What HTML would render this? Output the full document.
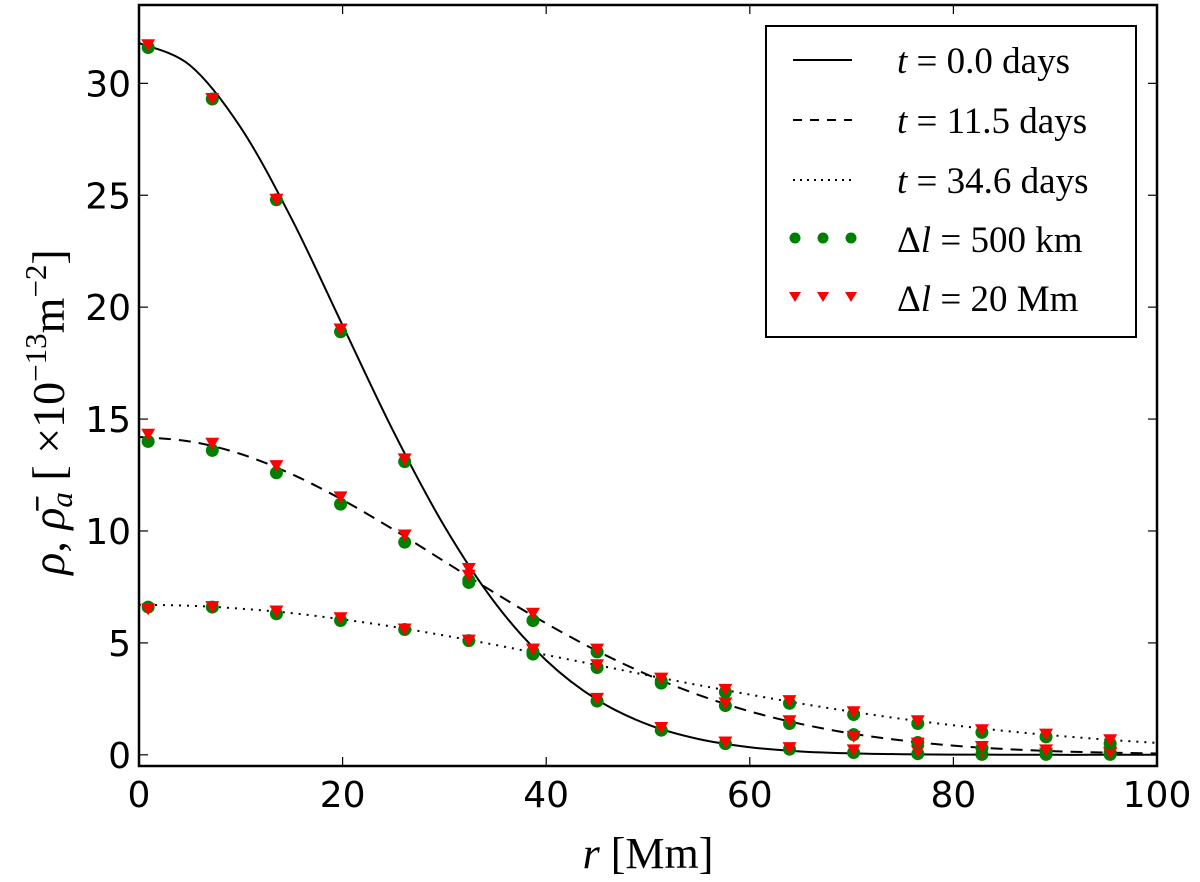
<!DOCTYPE html>
<html><head><meta charset="utf-8"><style>
html,body{margin:0;padding:0;background:#fff;width:1200px;height:882px;overflow:hidden}
svg{display:block}
.tk{font-family:"DejaVu Sans","Liberation Sans",sans-serif;font-size:36px;fill:#000}
.sf{font-family:"Liberation Serif","DejaVu Serif",serif;fill:#000}
</style></head><body>
<svg id="chart" width="1200" height="882" xmlns="http://www.w3.org/2000/svg"></svg>
<script>
const curveR = [0,5,10,15,20,25,30,35,40,45,50,55,60,65,70,75,80,85,90,95,100];
const curveT0 = [31.8,30.81,28.02,23.94,19.19,14.44,10.21,6.77,4.22,2.46,1.35,0.70,0.34,0.15,0.065,0.026,0.01,0.004,0,0,0];
const curveT11 = [14.2,14.0,13.44,12.54,11.39,10.06,8.64,7.22,5.87,4.64,3.57,2.67,1.94,1.38,0.95,0.64,0.41,0.26,0.16,0.10,0.057];
const curveT34 = [6.7,6.66,6.53,6.33,6.05,5.72,5.33,4.91,4.46,4.01,3.55,3.11,2.69,2.29,1.93,1.60,1.32,1.07,0.86,0.68,0.53];
const markerR = [0.9,7.2,13.5,19.8,26.1,32.4,38.7,45.0,51.3,57.6,63.9,70.2,76.5,82.8,89.1,95.4];
const greenT0 = [31.6,29.3,24.8,18.9,13.1,7.8,4.5,2.4,1.1,0.5,0.25,0.1,0.05,0.02,0.02,0.02];
const redT0 = [31.7,29.3,24.8,19.0,13.2,8.3,4.7,2.5,1.2,0.55,0.3,0.2,0.15,0.1,0.05,0.05];
const greenT11 = [14.0,13.6,12.6,11.2,9.5,7.7,6.0,4.6,3.3,2.2,1.4,0.9,0.55,0.3,0.15,0.1];
const redT11 = [14.3,13.9,12.9,11.5,9.8,8.0,6.3,4.7,3.4,2.3,1.5,0.8,0.5,0.35,0.2,0.1];
const greenT34 = [6.6,6.6,6.3,6.0,5.6,5.1,4.6,3.9,3.2,2.8,2.3,1.8,1.4,1.0,0.8,0.5];
const redT34 = [6.5,6.6,6.4,6.1,5.6,5.1,4.7,4.0,3.4,2.9,2.4,1.9,1.5,1.1,0.9,0.65];
const xTicks = [0,20,40,60,80,100];
const yTicks = [0,5,10,15,20,25,30];

const L=139,R=1157,T=5,B=766,XMIN=0,XMAX=100,YMIN=-0.5,YMAX=33.5;
const sx=v=>L+(v-XMIN)/(XMAX-XMIN)*(R-L);
const sy=v=>B-(v-YMIN)/(YMAX-YMIN)*(B-T);
const svg=document.getElementById('chart');
const NS='http://www.w3.org/2000/svg';
function mk(tag,attrs,parent){const e=document.createElementNS(NS,tag);for(const k in attrs)e.setAttribute(k,attrs[k]);(parent||svg).appendChild(e);return e;}

const clip=mk('clipPath',{id:'pc'});mk('rect',{x:L,y:T,width:R-L,height:B-T},clip);
const plot=mk('g',{'clip-path':'url(#pc)'});



function smooth(xs,ys){
  const p=xs.map((x,i)=>[sx(x),sy(ys[i])]);
  let d='M'+p[0][0]+','+p[0][1];
  for(let i=0;i<p.length-1;i++){
    const p0=p[Math.max(0,i-1)],p1=p[i],p2=p[i+1],p3=p[Math.min(p.length-1,i+2)];
    const c1=[p1[0]+(p2[0]-p0[0])/6,p1[1]+(p2[1]-p0[1])/6];
    const c2=[p2[0]-(p3[0]-p1[0])/6,p2[1]-(p3[1]-p1[1])/6];
    d+=' C'+c1+' '+c2+' '+p2;
  }
  return d;
}
const styles=[[curveT0,'none','curve-t0'],[curveT11,'12 8','curve-t11'],[curveT34,'2 6','curve-t34']];
styles.forEach(s=>{
  const e=mk('path',{d:smooth(curveR,s[0]),fill:'none',stroke:'#000','stroke-width':2,'stroke-dasharray':s[1]},plot);
  
  
});
function tri(x,y,g,name){
  const e=mk('path',{d:`M${x-7},${y-6} L${x+7},${y-6} L${x},${y+6} Z`,fill:'#ff0000'},g);
  
  
}
[[greenT0,redT0,'t0'],[greenT11,redT11,'t11'],[greenT34,redT34,'t34']].forEach(s=>{
  markerR.forEach((r,i)=>{
    const c=mk('circle',{cx:sx(r),cy:sy(s[0][i]),r:6.5,fill:'#008000'},plot);
    
    
    tri(sx(r),sy(s[1][i]),plot,'marker-20Mm-'+s[2]);
  });
});

const fr=mk('rect',{x:L,y:T,width:R-L,height:B-T,fill:'none',stroke:'#000','stroke-width':2.5});


xTicks.forEach(v=>{
  const x=sx(v);
  mk('line',{x1:x,y1:B,x2:x,y2:B-9,stroke:'#000','stroke-width':1.2});
  mk('line',{x1:x,y1:T,x2:x,y2:T+9,stroke:'#000','stroke-width':1.2});
  const t=mk('text',{x:x,y:B+41,'text-anchor':'middle',class:'tk'});t.textContent=v;
  
  
});
yTicks.forEach(v=>{
  const y=sy(v);
  mk('line',{x1:L,y1:y,x2:L+9,y2:y,stroke:'#000','stroke-width':1.2});
  mk('line',{x1:R,y1:y,x2:R-9,y2:y,stroke:'#000','stroke-width':1.2});
  const t=mk('text',{x:L-8,y:y+13,'text-anchor':'end',class:'tk'});t.textContent=v;
  
  
});
</script>
<svg width="1200" height="882" style="position:absolute;left:0;top:0">
<text class="sf" x="648" y="868" text-anchor="middle" font-size="44"><tspan font-style="italic">r</tspan> [Mm]</text>
<text class="sf" transform="translate(64,412) rotate(-90)" text-anchor="middle" font-size="46"><tspan font-style="italic">ρ</tspan>, <tspan font-style="italic">ρ̄</tspan><tspan font-style="italic" font-size="31" dy="8">a</tspan><tspan dy="-8">  [ ×10</tspan><tspan font-size="31" dy="-18">−13</tspan><tspan dy="18">m</tspan><tspan font-size="31" dy="-18">−2</tspan><tspan dy="18">]</tspan></text>
<g>
<rect x="766" y="26" width="370" height="311" fill="#fff" stroke="#000" stroke-width="2"/>
<line x1="793" y1="60" x2="852" y2="60" stroke="#000" stroke-width="2"/>
<line x1="793" y1="120" x2="852" y2="120" stroke="#000" stroke-width="2" stroke-dasharray="9 8"/>
<line x1="793" y1="180" x2="852" y2="180" stroke="#000" stroke-width="2" stroke-dasharray="2 5"/>
<circle cx="795" cy="238" r="5.5" fill="#008000"/><circle cx="823" cy="238" r="5.5" fill="#008000"/><circle cx="851" cy="238" r="5.5" fill="#008000"/>
<path d="M789,292 L801,292 L795,302 Z M817,292 L829,292 L823,302 Z M845,292 L857,292 L851,302 Z" fill="#ff0000"/>
<text class="sf" x="897" y="73" font-size="37"><tspan font-style="italic">t</tspan> = 0.0 days</text>
<text class="sf" x="897" y="133" font-size="37"><tspan font-style="italic">t</tspan> = 11.5 days</text>
<text class="sf" x="897" y="193" font-size="37"><tspan font-style="italic">t</tspan> = 34.6 days</text>
<text class="sf" x="897" y="252" font-size="37">Δ<tspan font-style="italic">l</tspan> = 500 km</text>
<text class="sf" x="897" y="311" font-size="37">Δ<tspan font-style="italic">l</tspan> = 20 Mm</text>
</g>
</svg>
</body></html>
